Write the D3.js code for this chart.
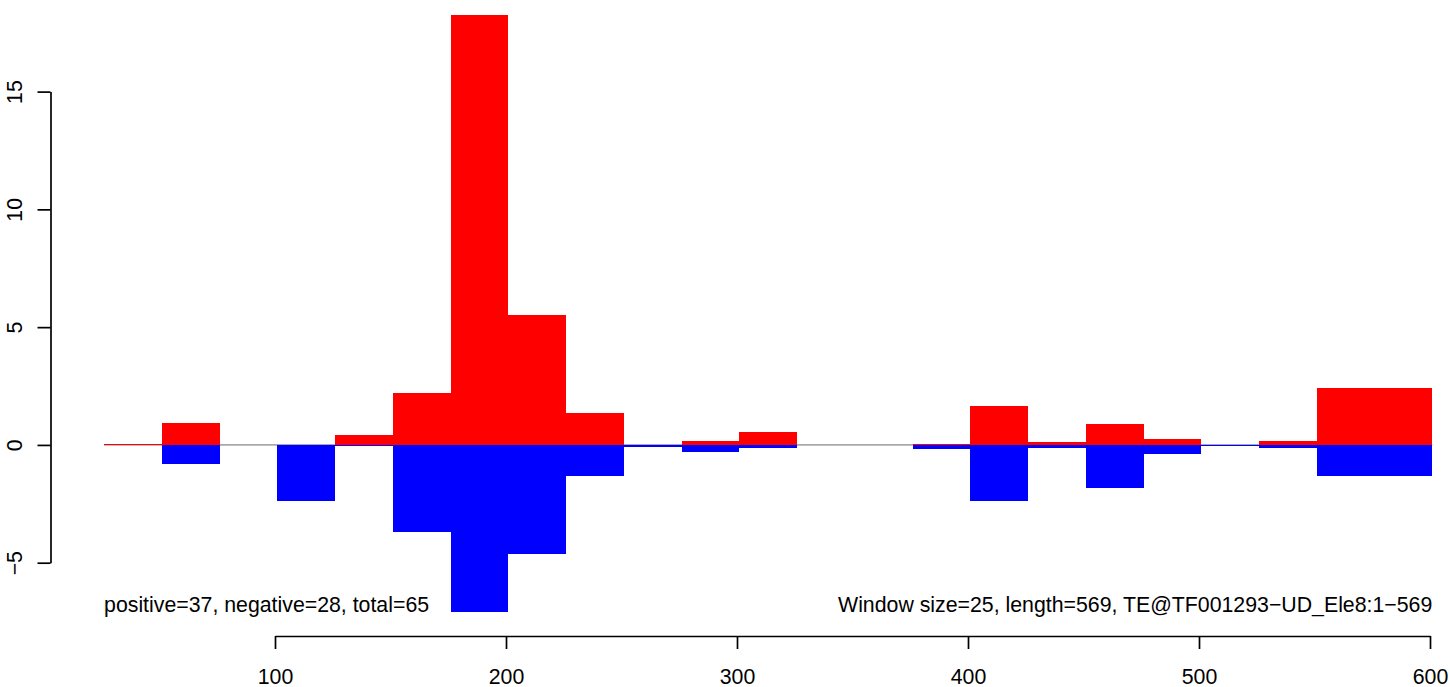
<!DOCTYPE html>
<html>
<head>
<meta charset="utf-8">
<script src="https://cdn.jsdelivr.net/npm/d3@7/dist/d3.min.js"></script>
<style>
  html, body { margin: 0; padding: 0; background: #fff; }
  svg { display: block; }
  text { font-family: "Liberation Sans", Arial, Helvetica, sans-serif; }
</style>
</head>
<body>
<svg id="chart" width="1450" height="687"></svg>
<script>
// Window start positions (window size 25)
const windowStarts = [26, 51, 76, 101, 126, 151, 176, 201, 226, 251, 276, 301, 326, 351, 376, 401, 426, 451, 476, 501, 526, 551, 576];
const windowSize = 25;
const positiveValues = [0.05, 0.92, 0, 0, 0.41, 2.21, 18.25, 5.52, 1.36, 0, 0.16, 0.55, 0, 0, 0.06, 1.66, 0.13, 0.9, 0.25, 0, 0.17, 2.42, 2.42];
const negativeValues = [0, -0.79, 0, -2.36, -0.04, -3.69, -7.09, -4.63, -1.32, -0.07, -0.3, -0.14, 0, 0, -0.17, -2.38, -0.13, -1.83, -0.38, -0.05, -0.15, -1.32, -1.32];
const xTicks = [100, 200, 300, 400, 500, 600];
const yTicks = [-5, 0, 5, 10, 15];
const leftNote = "positive=37, negative=28, total=65";
const rightNote = "Window size=25, length=569, TE@TF001293\u2212UD_Ele8:1\u2212569";

const FS = 21.3;
const svg = d3.select("#chart");
const x = d3.scaleLinear().domain([100, 600]).range([275, 1430]);
const y = d3.scaleLinear().domain([-5, 15]).range([562.7, 91.6]);

const xStart = windowStarts[0];
const xEnd = windowStarts[windowStarts.length - 1] + windowSize;

// zero reference line
svg.append("line")
  .attr("x1", x(xStart)).attr("x2", x(xEnd))
  .attr("y1", y(0)).attr("y2", y(0))
  .attr("stroke", "#a9a9a9").attr("stroke-width", 1.8);

const rows = windowStarts.map((s, i) => ({ s, pos: positiveValues[i], neg: negativeValues[i] }));

svg.append("g").selectAll("rect").data(rows.filter(d => d.pos > 0)).join("rect")
  .attr("x", d => x(d.s))
  .attr("width", d => x(d.s + windowSize) - x(d.s))
  .attr("y", d => y(d.pos))
  .attr("height", d => y(0) - y(d.pos))
  .attr("fill", "#ff0000")
  .attr("shape-rendering", "crispEdges");

svg.append("g").selectAll("rect").data(rows.filter(d => d.neg < 0)).join("rect")
  .attr("x", d => x(d.s))
  .attr("width", d => x(d.s + windowSize) - x(d.s))
  .attr("y", y(0))
  .attr("height", d => y(d.neg) - y(0))
  .attr("fill", "#0000ff")
  .attr("shape-rendering", "crispEdges");

// x axis
const gx = svg.append("g").attr("transform", "translate(0,636)")
  .call(d3.axisBottom(x).tickValues(xTicks).tickSize(13).tickSizeOuter(0).tickPadding(0).tickFormat(d3.format("d")));
gx.select(".domain").attr("stroke", "#000").attr("stroke-width", 1.7);
gx.selectAll(".tick line").attr("stroke", "#000").attr("stroke-width", 1.7);
gx.selectAll(".tick text")
  .attr("y", 47.5).attr("dy", null)
  .attr("font-size", FS).attr("fill", "#000")
  .attr("font-family", "Liberation Sans, Arial, sans-serif");

// y axis
const gy = svg.append("g").attr("transform", "translate(50.5,0)")
  .call(d3.axisLeft(y).tickValues(yTicks).tickSize(13).tickSizeOuter(0).tickFormat(d => d < 0 ? "\u2212" + Math.abs(d) : String(d)));
gy.select(".domain").attr("stroke", "#000").attr("stroke-width", 1.7);
gy.selectAll(".tick line").attr("stroke", "#000").attr("stroke-width", 1.7);
gy.selectAll(".tick text")
  .attr("x", null).attr("dy", null)
  .attr("transform", "translate(-28.5,0) rotate(-90)")
  .attr("text-anchor", "middle")
  .attr("font-size", FS).attr("fill", "#000")
  .attr("font-family", "Liberation Sans, Arial, sans-serif");

// annotations
svg.append("text")
  .attr("x", x(xStart)).attr("y", 612)
  .attr("font-size", FS).attr("fill", "#000")
  .text(leftNote);
svg.append("text")
  .attr("x", x(xEnd)).attr("y", 612)
  .attr("text-anchor", "end")
  .attr("font-size", FS).attr("fill", "#000")
  .text(rightNote);
</script>
</body>
</html>
